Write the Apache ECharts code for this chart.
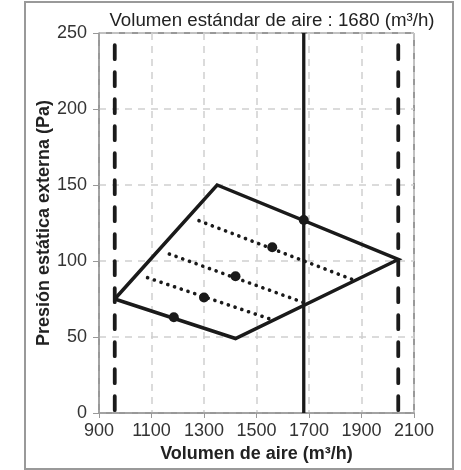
<!DOCTYPE html>
<html><head><meta charset="utf-8">
<script src="https://cdn.jsdelivr.net/npm/echarts@6/dist/echarts.min.js"></script>
<style>html,body{margin:0;padding:0;background:#fff}#c{width:461px;height:470px}</style>
</head><body><div id="c"></div>
<script>
const titleText = 'Volumen estándar de aire : 1680 (m³/h)';
const xName = 'Volumen de aire (m³/h)';
const yName = 'Presión estática externa (Pa)';
const xMin = 900, xMax = 2100, xStep = 200;
const yMin = 0, yMax = 250, yStep = 50;
// operating range polygon (closed)
const envelope = [[960, 75], [1350, 150], [2040, 101], [1420, 49], [960, 75]];
// dotted fan curves
const curveTop = [[1281, 126.5], [1863, 88]];
const curveMid = [[1168, 104.6], [1690, 72]];
const curveLow = [[1085, 89], [1549, 62]];
// marked points
const points = [[1185, 63], [1300, 76], [1420, 90], [1560, 109], [1680, 127]];
// limits
const limitLow = [[960, 242], [960, 0]];
const limitHigh = [[2040, 242], [2040, 0]];
const standard = [[1680, 250], [1680, 0]];

const ink = '#1a1a1a';
const font = '"Liberation Sans", Arial, sans-serif';
const chart = echarts.init(document.getElementById('c'), null, {renderer: 'canvas'});
const dottedStyle = {color: ink, width: 3.6, type: [0.1, 7], cap: 'round', opacity: 1};
chart.setOption({
  animation: false,
  title: {text: titleText, left: 267, textAlign: 'center', top: 6,
    textStyle: {fontFamily: font, fontSize: 18.7, fontWeight: 'normal', color: '#222'}},
  grid: {left: 99, right: 47, top: 33, bottom: 57, show: true, borderColor: '#333', borderWidth: 1, backgroundColor: 'transparent'},
  xAxis: {type: 'value', min: xMin, max: xMax, interval: xStep,
    name: xName, nameLocation: 'middle', nameGap: 32, nameMoveOverlap: false,
    nameTextStyle: {fontFamily: font, fontSize: 18, fontWeight: 'bold', color: '#222'},
    axisLine: {lineStyle: {color: '#999', width: 1.5}},
    axisTick: {show: true, length: 5, lineStyle: {color: '#999'}},
    axisLabel: {fontFamily: font, fontSize: 18, color: '#333', margin: 9, formatter: v => String(v)},
    splitLine: {show: true, lineStyle: {color: '#d0d0d0', type: [7, 6], width: 1.5}}},
  yAxis: {type: 'value', min: yMin, max: yMax, interval: yStep,
    name: yName, nameLocation: 'middle', nameGap: 46, nameMoveOverlap: false,
    nameTextStyle: {fontFamily: font, fontSize: 18, fontWeight: 'bold', color: '#222'},
    axisLine: {show: true, lineStyle: {color: '#999', width: 1.5}},
    axisTick: {show: true, length: 6, lineStyle: {color: '#999'}},
    axisLabel: {fontFamily: font, fontSize: 18, color: '#333', margin: 12, formatter: v => String(v)},
    splitLine: {show: true, lineStyle: {color: '#d0d0d0', type: [7, 6], width: 1.5}}},
  graphic: [{type: 'rect', shape: {x: 25, y: 2, width: 428, height: 467},
    style: {fill: 'none', stroke: '#999', lineWidth: 2}, z: 100}],
  series: [
    {type: 'line', data: limitLow, symbol: 'none', lineStyle: {color: ink, width: 3.8, type: [14, 13], cap: 'round'}},
    {type: 'line', data: limitHigh, symbol: 'none', lineStyle: {color: ink, width: 3.8, type: [14, 13], cap: 'round'}},
    {type: 'line', data: standard, symbol: 'none', lineStyle: {color: ink, width: 3.3}},
    {type: 'line', data: envelope, symbol: 'none', lineStyle: {color: ink, width: 3.5, join: 'miter'}},
    {type: 'line', data: curveTop, symbol: 'none', lineStyle: dottedStyle},
    {type: 'line', data: curveMid, symbol: 'none', lineStyle: dottedStyle},
    {type: 'line', data: curveLow, symbol: 'none', lineStyle: dottedStyle},
    {type: 'scatter', data: points, symbol: 'circle', symbolSize: 10, itemStyle: {color: ink, opacity: 1}, z: 5}
  ]
});
</script></body></html>
